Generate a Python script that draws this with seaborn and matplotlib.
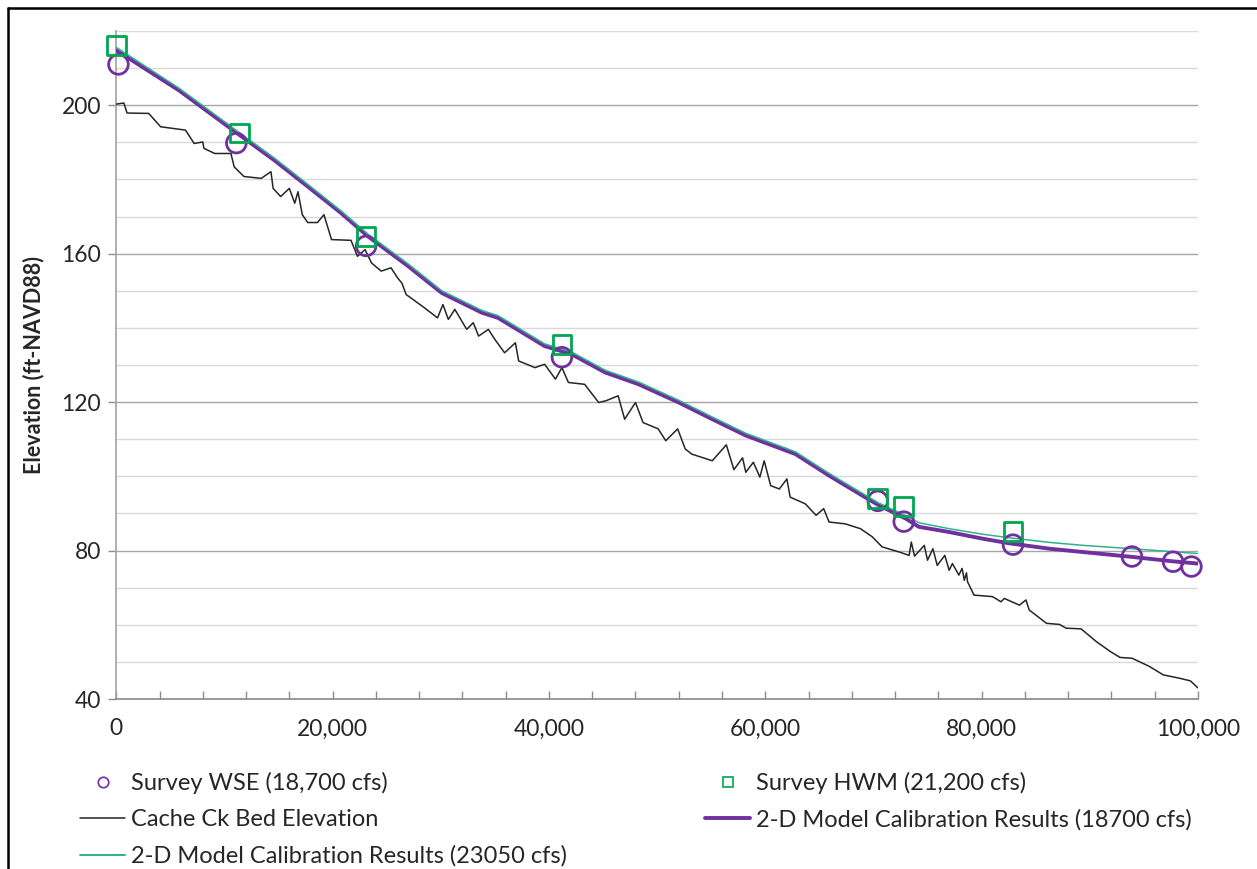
import numpy as np
import pandas as pd
import matplotlib
matplotlib.use("Agg")
import matplotlib.pyplot as plt
import matplotlib.ticker as mticker
from matplotlib.lines import Line2D
import seaborn as sns

# Station (ft) and elevation (ft-NAVD88)
bed_x = [0.0, 0.7, 1.0, 3.0, 4.1, 6.4, 7.2, 8.0, 8.1, 9.1, 10.6, 10.9, 11.8, 13.4, 14.3, 14.5,
         15.2, 16.0, 16.5, 16.8, 17.2, 17.7, 18.6, 19.2, 19.9, 21.7, 22.3, 23.0, 23.6, 24.5,
         25.4, 26.0, 26.4, 26.8, 28.5, 29.7, 30.2, 30.7, 31.3, 32.4, 33.0, 33.5, 34.4, 35.0,
         35.9, 36.9, 37.2, 38.7, 39.6, 40.6, 41.2, 41.8, 43.3, 44.6, 45.3, 46.4, 47.0, 48.0,
         48.7, 50.1, 50.8, 51.9, 52.6, 53.2, 55.1, 56.4, 57.1, 57.9, 58.2, 58.9, 59.5, 59.9,
         60.5, 61.3, 62.0, 62.3, 63.7, 64.7, 65.4, 65.9, 67.4, 68.8, 69.9, 70.8, 72.4, 73.3,
         73.5, 73.8, 74.7, 75.0, 75.5, 75.9, 76.6, 77.0, 77.3, 77.9, 78.2, 78.4, 78.6, 78.7,
         79.3, 81.0, 81.8, 82.1, 83.5, 84.1, 84.4, 85.2, 86.0, 87.2, 87.8, 89.2, 90.6, 91.9,
         92.8, 93.9, 95.5, 96.8, 98.3, 99.3, 100.0]
bed_y = [200.3, 200.6, 197.9, 197.8, 194.2, 193.3, 189.7, 190.1, 188.4, 187.0, 187.0, 183.4,
         180.8, 180.3, 182.1, 177.6, 175.4, 177.6, 173.6, 176.7, 170.5, 168.4, 168.4, 170.5,
         163.8, 163.6, 159.3, 161.1, 157.5, 155.3, 156.2, 153.5, 152.1, 149.0, 145.4, 142.7,
         146.3, 142.3, 145.0, 139.6, 141.4, 137.8, 139.6, 136.9, 133.3, 136.0, 131.1, 129.3,
         130.2, 126.2, 129.3, 125.3, 124.8, 119.9, 120.4, 121.7, 115.4, 119.9, 114.5, 112.8,
         109.6, 112.8, 107.4, 106.0, 104.2, 108.5, 101.8, 105.0, 101.1, 103.8, 99.8, 104.2,
         97.5, 96.6, 99.3, 94.4, 92.6, 89.5, 91.3, 87.7, 87.2, 85.9, 83.7, 81.0, 79.6, 78.7,
         82.3, 78.5, 81.4, 77.4, 80.5, 76.0, 78.7, 74.7, 76.5, 73.4, 75.2, 72.0, 74.0, 71.6,
         68.0, 67.6, 66.2, 67.1, 65.3, 66.7, 64.0, 62.2, 60.4, 60.1, 59.1, 58.9, 55.5, 52.8,
         51.2, 51.0, 48.8, 46.5, 45.6, 44.9, 43.0]

m18700_x = [0.0, 5.8, 11.2, 14.6, 17.7, 20.8, 23.3, 27.0, 30.1, 33.8, 35.3, 39.6, 42.1, 45.2,
            48.3, 52.0, 55.1, 58.2, 62.8, 65.9, 68.7, 70.5, 73.0, 74.2, 77.0, 80.1, 82.7,
            86.3, 93.9, 97.7, 100.0]
m18700_y = [214.8, 204.0, 192.4, 185.2, 178.1, 170.9, 164.6, 156.6, 149.4, 144.1, 142.7,
            135.1, 132.9, 128.0, 124.8, 119.9, 115.4, 111.0, 106.0, 100.2, 95.3, 92.2, 88.6,
            86.4, 85.0, 83.2, 81.9, 80.5, 78.3, 77.1, 76.5]

m23050_x = [0.0, 5.8, 11.2, 14.6, 17.7, 20.8, 23.3, 27.0, 30.1, 33.8, 35.3, 39.6, 42.1, 45.2,
            48.3, 52.0, 55.1, 58.2, 62.8, 65.9, 68.7, 70.5, 73.0, 74.2, 77.0, 80.1, 82.7,
            86.3, 89.4, 93.9, 100.0]
m23050_y = [215.6, 204.6, 193.0, 185.8, 178.7, 171.5, 165.2, 157.2, 150.0, 144.7, 143.3,
            135.7, 133.5, 128.6, 125.4, 120.5, 116.0, 111.6, 106.6, 100.8, 95.9, 92.8, 89.4,
            87.5, 85.9, 84.4, 83.4, 82.2, 81.4, 80.5, 79.2]

wse_x = [0.2, 11.1, 23.1, 41.2, 70.4, 72.8, 82.9, 93.9, 97.7, 99.4]
wse_y = [211.0, 189.8, 162.1, 132.1, 93.4, 87.8, 81.6, 78.4, 77.0, 75.7]

hwm_x = [0.0, 11.4, 23.1, 41.2, 70.4, 72.8, 82.9]
hwm_y = [216.1, 192.5, 164.6, 135.6, 94.0, 91.8, 85.1]

purple = "#7030A0"
green_mk = "#00A650"
green_ln = "#2DB38A"

sns.set_theme(style="white")
plt.rcParams["font.family"] = ["Lato", "DejaVu Sans"]

fig = plt.figure(figsize=(12.57, 8.69), dpi=100)
ax = fig.add_axes([0.0925, 0.1956, 0.8605, 0.7687])

k = 1000.0
sns.lineplot(x=np.array(bed_x) * k, y=bed_y, ax=ax, color="#262626", lw=1.1,
             sort=False, estimator=None, zorder=3)
sns.lineplot(x=np.array(m18700_x) * k, y=m18700_y, ax=ax, color=purple, lw=2.8,
             sort=False, estimator=None, zorder=4)
sns.lineplot(x=np.array(m23050_x) * k, y=m23050_y, ax=ax, color=green_ln, lw=1.1,
             sort=False, estimator=None, zorder=5)
sns.scatterplot(x=np.array(wse_x) * k, y=wse_y, ax=ax, marker="o", s=200,
                facecolor="none", edgecolor=purple, linewidth=2.0, zorder=6, clip_on=False)
sns.scatterplot(x=np.array(hwm_x) * k, y=hwm_y, ax=ax, marker="s", s=180,
                facecolor="none", edgecolor=green_mk, linewidth=2.0, zorder=6, clip_on=False)

ax.set_xlim(0, 100000)
ax.set_ylim(40, 220)

ax.yaxis.set_major_locator(mticker.FixedLocator([40, 80, 120, 160, 200]))
ax.yaxis.set_minor_locator(mticker.MultipleLocator(10))
ax.xaxis.set_major_locator(mticker.MultipleLocator(20000))
ax.xaxis.set_minor_locator(mticker.MultipleLocator(4000))
ax.xaxis.set_major_formatter(mticker.FuncFormatter(lambda v, p: f"{int(v):,}"))

ax.grid(False)
for v in np.arange(50, 221, 10):
    if v % 40 == 0:
        continue
    ax.axhline(v, color="#D9D9D9", lw=1.0, zorder=1)
for v in [80, 120, 160, 200]:
    ax.axhline(v, color="#A6A6A6", lw=1.0, zorder=1)

for s in ["top", "right"]:
    ax.spines[s].set_visible(False)
ax.spines["left"].set_color("#A6A6A6")
ax.spines["bottom"].set_color("#8C8C8C")

ax.tick_params(axis="y", which="major", direction="out", length=6, width=1,
               color="#8C8C8C", labelsize=16.5, labelcolor="#262626", pad=5, left=True)
ax.tick_params(axis="y", which="minor", length=0)
ax.tick_params(axis="x", which="both", direction="in", length=6, width=1,
               color="#8C8C8C", labelsize=16.5, labelcolor="#262626", pad=14, bottom=True)

ax.set_ylabel("Elevation (ft-NAVD88)", fontsize=15.5, fontweight="bold", labelpad=12)
ax.set_xlabel("")

handles = [
    Line2D([], [], marker="o", ls="none", mfc="none", mec=purple, ms=7.5, mew=1.2),
    Line2D([], [], color="#262626", lw=1.1),
    Line2D([], [], color=green_ln, lw=1.4),
    Line2D([], [], marker="s", ls="none", mfc="none", mec=green_mk, ms=7.5, mew=1.2),
    Line2D([], [], color=purple, lw=2.8),
]
labels = ["Survey WSE (18,700 cfs)", "Cache Ck Bed Elevation",
          "2-D Model Calibration Results (23050 cfs)", "Survey HWM (21,200 cfs)",
          "2-D Model Calibration Results (18700 cfs)"]
fig.legend(handles, labels, loc="upper left", bbox_to_anchor=(0.064, 0.112), ncol=2,
           frameon=False, fontsize=17, handlelength=1.9, handletextpad=0.25,
           columnspacing=5.85, labelspacing=0.65, borderaxespad=0, borderpad=0)

# chart frame (cropped on right/bottom)
fig.add_artist(Line2D([8 / 1257, 8 / 1257], [0, 1 - 8 / 869], transform=fig.transFigure,
                      color="black", lw=1.8))
fig.add_artist(Line2D([8 / 1257, 1], [1 - 8 / 869, 1 - 8 / 869], transform=fig.transFigure,
                      color="black", lw=1.8))

fig.savefig("out.png", dpi=100)
